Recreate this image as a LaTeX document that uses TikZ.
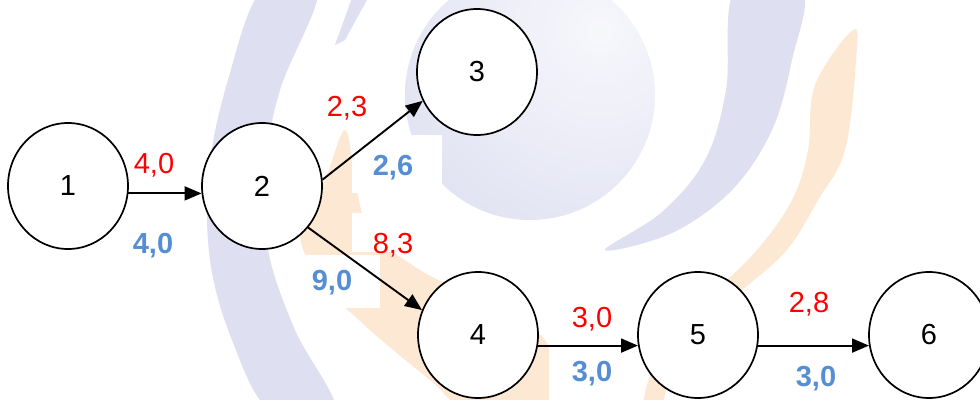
\documentclass[tikz,border=0pt]{standalone}
\usepackage{fontspec}
\setmainfont{Liberation Sans}
\usetikzlibrary{shapes.geometric,arrows.meta}
\definecolor{lav}{RGB}{222,224,241}
\definecolor{org}{RGB}{253,232,212}
\definecolor{lblred}{RGB}{255,0,0}
\definecolor{lblblue}{RGB}{85,142,213}
\begin{document}
\begin{tikzpicture}[x=1pt,y=-1pt,
  event/.style={ellipse, draw, line width=1.7pt, fill=white, minimum width=120pt,
    minimum height=126pt, inner sep=0pt, font=\fontsize{29}{33}\selectfont},
  act/.style={line width=1.9pt, -{Triangle[length=17pt,width=14pt]}},
  rlab/.style={text=lblred, anchor=base, inner sep=0pt, font=\fontsize{29}{33}\selectfont},
  blab/.style={text=lblblue, anchor=base, inner sep=0pt, font=\fontsize{29}{33}\selectfont\bfseries},
  mask/.style={fill=white}]
\useasboundingbox (0,0) rectangle (980,399);
\fill[white] (0,0) rectangle (980,399);
% watermark: sphere
\begin{scope}
  \clip (530,95) circle (125);
  \shade[inner color=white!75!lav, outer color=lav] (600,30) circle (260);
\end{scope}
% left lavender crescent
\fill[lav] plot[smooth cycle, tension=0.6] coordinates {(262,-10) (228,80) (209,170) (210,260) (232,340) (270,410) (335,410) (295,330) (268,250) (265,170) (280,90) (318,-10)};
\fill[lav] (335,45) -- (345,40) -- (368,-2) -- (352,-2) -- cycle;
% right lavender crescent
\fill[lav] plot[smooth cycle, tension=0.6] coordinates {(735,-10) (802,-10) (792,60) (772,130) (732,190) (672,233) (605,250) (662,212) (705,160) (726,90)};
% orange bands
\fill[org] plot[smooth cycle, tension=0.6] coordinates {(853,30) (815,85) (808,150) (792,200) (757,250) (708,298) (664,340) (642,410) (660,410) (680,345) (730,300) (785,252) (818,200) (845,150) (856,60)};
\fill[org] plot[smooth cycle, tension=0.6] coordinates {(345,130) (325,180) (300,230) (320,280) (370,330) (430,380) (470,410) (560,410) (545,340) (480,300) (420,270) (370,230) (355,180)};
% label masks
\fill[mask] (352,135) rectangle (442,193);
\fill[mask] (352,213) rectangle (445,252);
\fill[mask] (291,255) rectangle (380,308);
\fill[mask] (549,338) rectangle (638,405);
\fill[mask] (768,272) rectangle (869,405);
% events
\node[event] (n1) at (68,186) {1};
\node[event] (n2) at (262,186) {2};
\node[event] (n3) at (477,72) {3};
\node[event] (n4) at (478,335) {4};
\node[event] (n5) at (698,335) {5};
\node[event] (n6) at (929,335) {6};
% activities
\draw[act] (n1.-7) -- (n2.187);
\draw[act] (n2.6) -- (n3.208);
\draw[act] (n2.-42) -- (n4.156);
\draw[act] (n4.-10) -- (n5.190);
\draw[act] (n5.-10) -- (n6.190);
% labels
\node[rlab] (r12) at (154,173) {4,0};
\node[blab] (b12) at (153,253) {4,0};
\node[rlab] (r23) at (347,116) {2,3};
\node[blab] (b23) at (393,175) {2,6};
\node[rlab] (r24) at (393,253) {8,3};
\node[blab] (b24) at (332,290) {9,0};
\node[rlab] (r45) at (592,327) {3,0};
\node[blab] (b45) at (592,381) {3,0};
\node[rlab] (r56) at (809,312) {2,8};
\node[blab] (b56) at (816,386) {3,0};
\end{tikzpicture}
\end{document}
